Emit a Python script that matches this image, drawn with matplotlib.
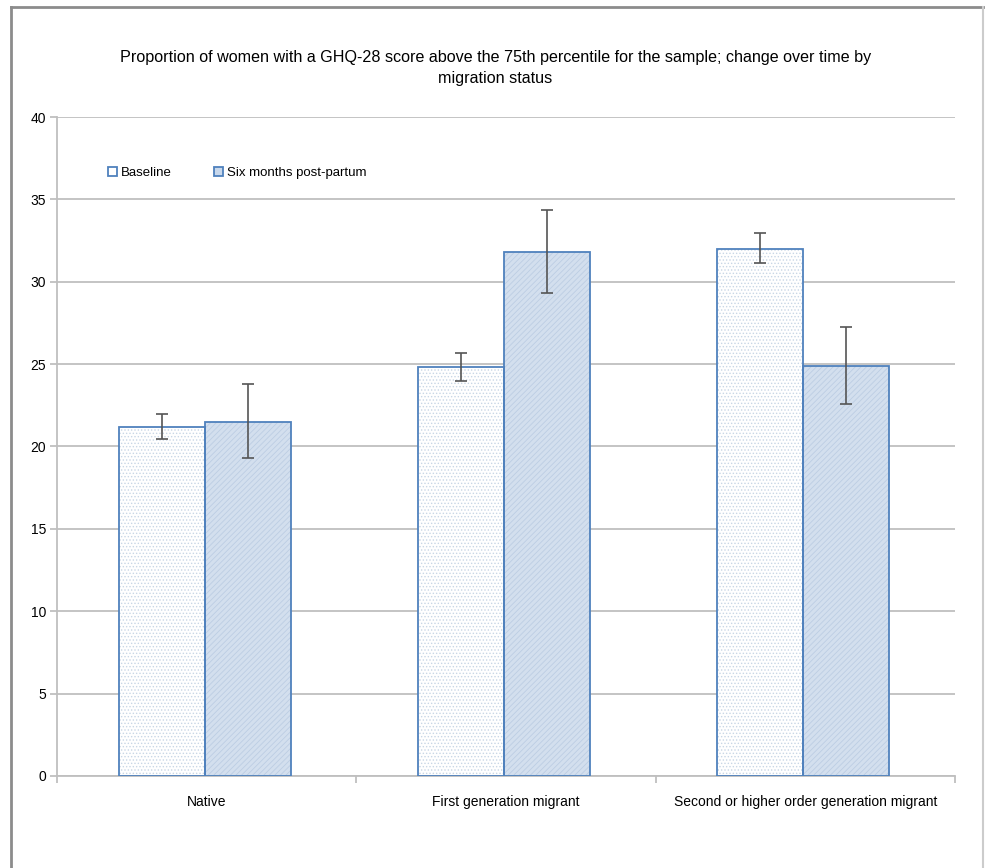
import matplotlib
matplotlib.use("Agg")
import matplotlib.pyplot as plt
from matplotlib.lines import Line2D
import numpy as np

# data
categories = ["Native", "First generation migrant", "Second or higher order generation migrant"]
baseline = [21.2, 24.8, 32.0]
baseline_lo = [20.45, 24.0, 31.15]
baseline_hi = [22.0, 25.7, 32.95]
sixmonths = [21.5, 31.8, 24.9]
sixmonths_lo = [19.3, 29.3, 22.6]
sixmonths_hi = [23.8, 34.35, 27.25]

plt.rcParams['font.family'] = ['Liberation Sans', 'DejaVu Sans']
plt.rcParams['hatch.linewidth'] = 0.6

fig = plt.figure(figsize=(9.85, 8.68), dpi=100)
ax = fig.add_axes([0.058, 0.106, 0.9115, 0.7592])

x = np.arange(len(categories)) - 0.007
w = 0.2875
edge = '#4f81bd'

# baseline: white with fine dots
ax.bar(x - w/2, baseline, w, color='white', edgecolor='#c9d6e6', hatch='.....', linewidth=0, zorder=2)
ax.bar(x - w/2, baseline, w, fill=False, edgecolor=edge, linewidth=1.3, zorder=3)
# six months: light blue with fine diagonal texture
ax.bar(x + w/2, sixmonths, w, color='#d3dfee', edgecolor='#bccde3', hatch='//////', linewidth=0, zorder=2)
ax.bar(x + w/2, sixmonths, w, fill=False, edgecolor=edge, linewidth=1.3, zorder=3)

b = np.array(baseline)
s = np.array(sixmonths)
ax.errorbar(x - w/2, b, yerr=[b - np.array(baseline_lo), np.array(baseline_hi) - b],
            fmt='none', ecolor='#555555', elinewidth=1.2, capsize=4, capthick=1.2, zorder=4)
ax.errorbar(x + w/2, s, yerr=[s - np.array(sixmonths_lo), np.array(sixmonths_hi) - s],
            fmt='none', ecolor='#555555', elinewidth=1.2, capsize=4, capthick=1.2, zorder=4)

ax.set_xlim(-0.5, 2.5)
ax.set_ylim(0, 40)
ax.set_yticks(np.arange(0, 41, 5))
ax.yaxis.grid(True, color='#bfbfbf', linewidth=1.3)
ax.set_axisbelow(True)
ax.set_xticks(np.arange(len(categories)))
ax.set_xticklabels(categories, fontsize=10)
ax.set_xticks([-0.5, 0.5, 1.5, 2.5], minor=True)
ax.tick_params(axis='x', which='major', length=0, pad=14)
ax.tick_params(axis='x', which='minor', length=5, color='#bfbfbf', width=1.3)
ax.tick_params(axis='y', length=5, color='#bfbfbf', width=1.3, labelsize=10, pad=3)
for sp in ['top', 'right']:
    ax.spines[sp].set_visible(False)
for sp in ['left', 'bottom']:
    ax.spines[sp].set_color('#bfbfbf')
    ax.spines[sp].set_linewidth(1.3)

handles = [plt.Rectangle((0, 0), 1, 1, facecolor='white', edgecolor=edge, linewidth=1.3),
           plt.Rectangle((0, 0), 1, 1, facecolor='#c8d8ec', edgecolor=edge, linewidth=1.3)]
ax.legend(handles, ["Baseline", "Six months post-partum"], loc='upper left',
          bbox_to_anchor=(0.043, 0.942), ncol=2, frameon=False, fontsize=9.5,
          handlelength=0.7, handleheight=0.7, handletextpad=0.3, columnspacing=3.2)

fig.text(0.503, 0.922, "Proportion of women with a GHQ-28 score above the 75th percentile for the sample; change over time by\nmigration status",
         ha='center', va='center', fontsize=11.6, linespacing=1.5)

# outer frame
fc = '#8c8c8c'
fig.add_artist(Line2D([0.011, 0.011], [0.0, 0.992], transform=fig.transFigure, color=fc, linewidth=2))
fig.add_artist(Line2D([0.011, 0.998], [0.992, 0.992], transform=fig.transFigure, color=fc, linewidth=2))
fig.add_artist(Line2D([0.998, 0.998], [0.0, 0.992], transform=fig.transFigure, color='#cccccc', linewidth=1.5))

fig.savefig("out.png", dpi=100)
